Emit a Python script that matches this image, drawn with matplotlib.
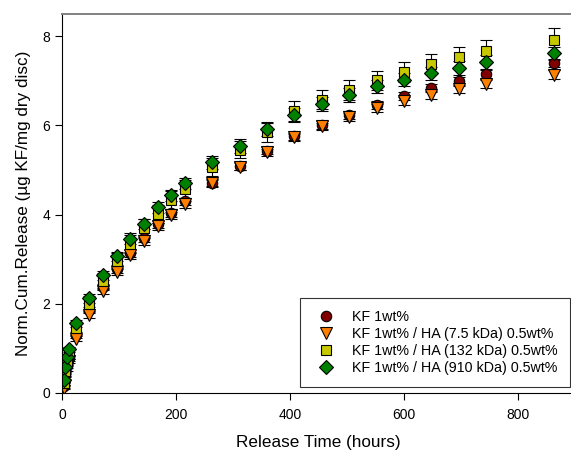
import numpy as np
import matplotlib
matplotlib.use('Agg')
import matplotlib.pyplot as plt

plt.rcParams['font.family'] = ['Liberation Sans', 'DejaVu Sans']

# release times (hours)
t = [3, 6, 9, 12, 24, 48, 72, 96, 120, 144, 168, 192, 216, 264, 312, 360,
     408, 456, 504, 552, 600, 648, 696, 744, 864]

kf = [0.15, 0.40, 0.60, 0.78, 1.30, 1.86, 2.38, 2.78, 3.13, 3.47, 3.78, 4.03,
      4.30, 4.72, 5.09, 5.43, 5.76, 6.02, 6.24, 6.46, 6.65, 6.84, 6.99, 7.15, 7.40]
kf_err = [0.03, 0.05, 0.05, 0.06, 0.06, 0.07, 0.07, 0.08, 0.08, 0.08, 0.08, 0.08,
          0.08, 0.08, 0.08, 0.08, 0.08, 0.09, 0.09, 0.09, 0.09, 0.1, 0.1, 0.1, 0.1]

ha75 = [0.12, 0.35, 0.55, 0.72, 1.22, 1.76, 2.28, 2.72, 3.09, 3.40, 3.74, 3.99,
        4.23, 4.70, 5.07, 5.40, 5.73, 5.98, 6.19, 6.39, 6.55, 6.68, 6.82, 6.94, 7.14]
ha75_err = [0.03, 0.04, 0.05, 0.05, 0.06, 0.07, 0.07, 0.08, 0.08, 0.08, 0.08, 0.08,
            0.08, 0.08, 0.08, 0.08, 0.08, 0.08, 0.08, 0.08, 0.09, 0.09, 0.09, 0.09, 0.1]

ha132 = [0.22, 0.50, 0.72, 0.88, 1.45, 2.00, 2.52, 2.95, 3.35, 3.70, 4.02, 4.32,
         4.58, 5.07, 5.46, 5.85, 6.32, 6.58, 6.80, 7.01, 7.20, 7.38, 7.53, 7.67, 7.91]
ha132_err = [0.05, 0.08, 0.1, 0.12, 0.15, 0.18, 0.18, 0.18, 0.2, 0.2, 0.2, 0.2,
             0.2, 0.2, 0.2, 0.22, 0.22, 0.22, 0.22, 0.22, 0.22, 0.22, 0.23, 0.25, 0.27]

ha910 = [0.28, 0.59, 0.81, 0.98, 1.56, 2.12, 2.64, 3.07, 3.46, 3.79, 4.16, 4.43,
         4.70, 5.17, 5.54, 5.91, 6.23, 6.48, 6.68, 6.88, 7.03, 7.17, 7.29, 7.42, 7.62]
ha910_err = [0.04, 0.05, 0.06, 0.06, 0.08, 0.1, 0.1, 0.1, 0.12, 0.12, 0.12, 0.12,
             0.12, 0.15, 0.15, 0.15, 0.15, 0.15, 0.15, 0.15, 0.15, 0.15, 0.15, 0.15, 0.15]

labels = ['KF 1wt%', 'KF 1wt% / HA (7.5 kDa) 0.5wt%',
          'KF 1wt% / HA (132 kDa) 0.5wt%', 'KF 1wt% / HA (910 kDa) 0.5wt%']

fig = plt.figure(figsize=(5.71, 4.55), dpi=100)
ax = fig.add_axes([0.1086, 0.1363, 0.898, 0.833])

series = [
    (kf, kf_err, 'o', '#800000', 7.5),
    (ha75, ha75_err, 'v', '#ff8000', 8),
    (ha132, ha132_err, 's', '#c8c800', 7),
    (ha910, ha910_err, 'D', '#008000', 7),
]
for (y, e, m, c, ms), lab in zip(series, labels):
    ax.errorbar(t, y, yerr=e, fmt=m, color=c, mfc=c, mec='black', mew=0.8,
                ms=ms, ecolor='black', elinewidth=0.8, capsize=4, capthick=0.8,
                label=lab)

ax.set_xlim(0, 900)
ax.set_ylim(0, 8.5)
ax.set_xticks([0, 200, 400, 600, 800])
ax.set_yticks([0, 2, 4, 6, 8])
ax.tick_params(direction='out', length=5, labelsize=10)
ax.tick_params(axis='x', pad=6)
ax.spines['right'].set_visible(False)
ax.spines['top'].set_color('#808080')
ax.spines['top'].set_linewidth(1.4)

ax.set_xlabel('Release Time (hours)', fontsize=12.3, labelpad=9)
ax.set_ylabel('Norm.Cum.Release (\u00b5g KF/mg dry disc)', fontsize=12.3, labelpad=8)

handles, labs = ax.get_legend_handles_labels()
handles = [h[0] for h in handles]
leg = ax.legend(handles, labs, loc='lower right', bbox_to_anchor=(0.99, 0.016),
                fontsize=10.3, frameon=True, fancybox=False, edgecolor='black',
                handletextpad=0.8, handlelength=2.0, borderpad=0.85,
                labelspacing=0.2, borderaxespad=0)
leg.get_frame().set_linewidth(0.8)

fig.savefig('out.png', dpi=100)
